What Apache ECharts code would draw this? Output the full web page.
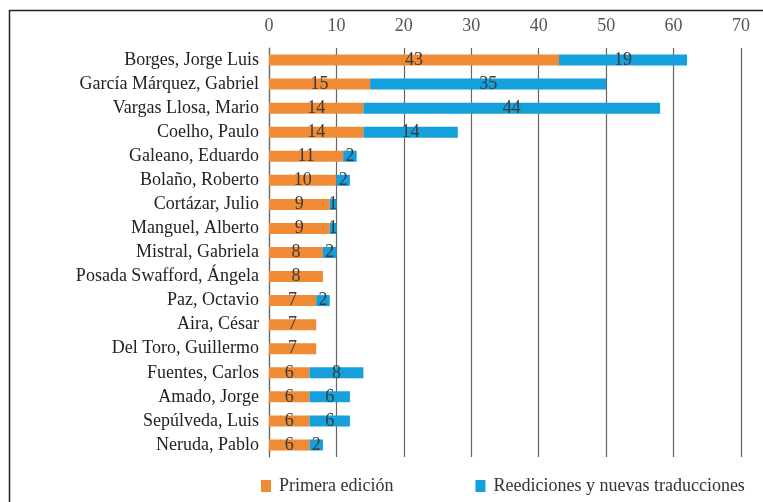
<!DOCTYPE html>
<html><head><meta charset="utf-8">
<script src="https://cdn.jsdelivr.net/npm/echarts@6/dist/echarts.min.js"></script>
<style>html,body{margin:0;padding:0;background:#fff}#c{width:763px;height:502px}</style>
</head><body><div id="c"></div>
<script>
const categories = ["Borges, Jorge Luis","García Márquez, Gabriel","Vargas Llosa, Mario","Coelho, Paulo","Galeano, Eduardo","Bolaño, Roberto","Cortázar, Julio","Manguel, Alberto","Mistral, Gabriela","Posada Swafford, Ángela","Paz, Octavio","Aira, César","Del Toro, Guillermo","Fuentes, Carlos","Amado, Jorge","Sepúlveda, Luis","Neruda, Pablo"];
const primeraEdicion = [43,15,14,14,11,10,9,9,8,8,7,7,7,6,6,6,6];
const reediciones = [19,35,44,14,2,2,1,1,2,0,2,0,0,8,6,6,2];
const xTicks = [0,10,20,30,40,50,60,70];

const chart = echarts.init(document.getElementById('c'));
const font = '"Liberation Serif", "Times New Roman", serif';
const lbl = {show:true, position:'inside', color:'#3a3a3a', fontFamily:font, fontSize:18,
  formatter: p => p.value ? String(p.value) : ''};
chart.setOption({
  animation:false,
  graphic:[{type:'rect', shape:{x:9.5,y:10.5,width:800,height:600}, style:{fill:'none', stroke:'#222', lineWidth:1.5}, z:-1}],
  grid:{left:269, right:22, top:48, bottom:45},
  legend:{top:472, left:256, itemGap:82, itemWidth:10, itemHeight:12, icon:'rect',
    textStyle:{fontFamily:font, fontSize:18, color:'#333', padding:[0,0,0,3]}},
  xAxis:{type:'value', position:'top', min:xTicks[0], max:xTicks[xTicks.length-1], interval:10,
    axisLine:{show:false}, axisTick:{show:false},
    axisLabel:{fontFamily:font, fontSize:18, color:'#555', margin:13},
    splitLine:{lineStyle:{color:'#666', width:1.2}}},
  yAxis:{type:'category', inverse:true, data:categories,
    axisLine:{lineStyle:{color:'#666', width:1.2}}, axisTick:{show:false},
    axisLabel:{fontFamily:font, fontSize:18, color:'#222', margin:10}},
  series:[
    {name:'Primera edición', type:'bar', stack:'a', data:primeraEdicion, barWidth:11,
      itemStyle:{color:'#EE8B34'}, label:lbl},
    {name:'Reediciones y nuevas traducciones', type:'bar', stack:'a', data:reediciones, barWidth:11,
      itemStyle:{color:'#159FDB'}, label:lbl}
  ]
});
</script></body></html>
